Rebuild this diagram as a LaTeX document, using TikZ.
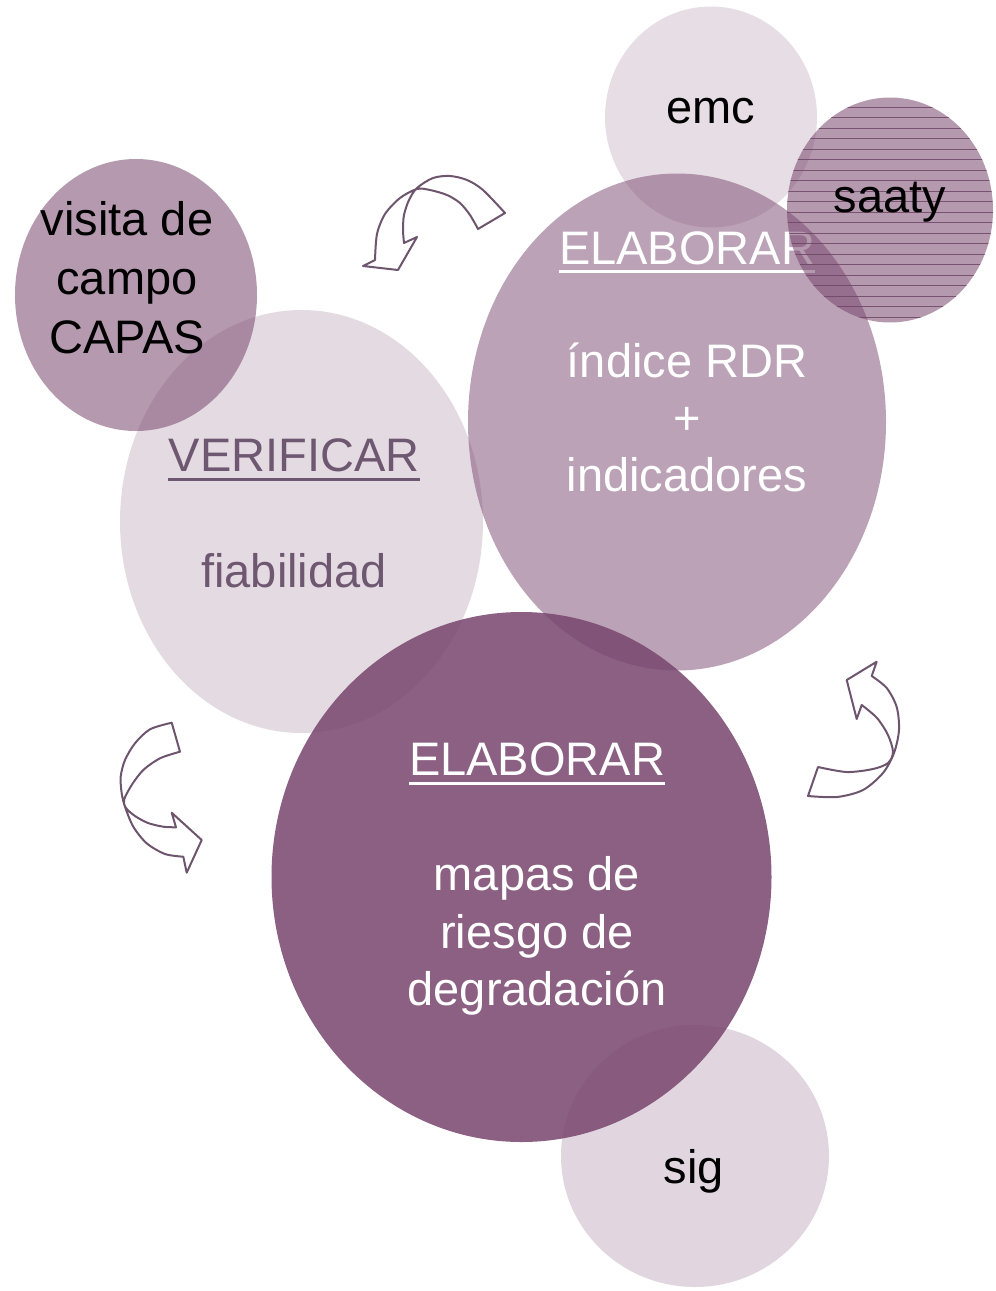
\documentclass[tikz,border=0pt]{standalone}
\usepackage{fontspec}
\setmainfont{Liberation Sans}
\usetikzlibrary{shapes.geometric}
\definecolor{plum}{RGB}{120,70,110}
\definecolor{arrowcol}{RGB}{110,85,110}
\definecolor{vtext}{RGB}{110,87,112}
\definecolor{saatyline}{RGB}{110,70,102}
\tikzset{
  bubble/.style={ellipse, inner sep=0pt, fill=plum, draw=none},
  lbl/.style={anchor=base, inner sep=0pt, font=\fontsize{47}{56}\selectfont},
  cyc/.style={draw=arrowcol, line width=2pt, line join=round},
  uline/.style={line width=3pt},
}
\begin{document}
\begin{tikzpicture}[x=1pt,y=-1pt]
\useasboundingbox (0,0) rectangle (996,1291);

% bubbles
\node[bubble, fill opacity=0.22, minimum width=268pt, minimum height=262pt] (sig) at (695,1156) {};
\node[bubble, fill opacity=0.55, minimum width=242pt, minimum height=272pt] (visita) at (136,295) {};
\node[bubble, fill opacity=0.18, minimum width=212pt, minimum height=221pt] (emc) at (711,117) {};
\node[bubble, fill opacity=0.20, minimum width=363pt, minimum height=423pt] (verif) at (301.5,521.5) {};
\node[bubble, fill opacity=0.50, minimum width=418pt, minimum height=497pt] (rdr) at (677,422) {};

% texts of emc, visita, verificar, rdr
\node[lbl] (temc) at (711,123) {emc};
\node[lbl] (tv1) at (127,235) {visita de};
\node[lbl] (tv2) at (127,294) {campo};
\node[lbl] (tv3) at (127,353) {CAPAS};
\node[lbl, text=vtext] (tver) at (294,471) {VERIFICAR};
\draw[uline, vtext] ([yshift=-8pt]tver.base west) -- ([yshift=-8pt]tver.base east);
\node[lbl, text=vtext] (tfia) at (294,587) {fiabilidad};
\node[lbl, text=white] (tel1) at (687,264) {ELABORAR};
\draw[uline, white] ([yshift=-7pt]tel1.base west) -- ([yshift=-7pt]tel1.base east);
\node[lbl, text=white] (tr1) at (687,377) {índice RDR};
\node[lbl, text=white] (tr2) at (687,434) {+};
\node[lbl, text=white] (tr3) at (687,491) {indicadores};

% saaty on top
\node[bubble, fill opacity=0.55, minimum width=206pt, minimum height=225pt] (saaty) at (890,210) {};
\begin{scope}
  \clip (890,210) ellipse [x radius=103, y radius=112.5];
  \foreach \yy in {107,117.5,...,330} \draw[saatyline, line width=0.9pt, opacity=0.85] (780,\yy) -- (1000,\yy);
\end{scope}
\node[lbl] (tsaaty) at (890,212) {saaty};

% mapas bubble
\node[bubble, fill opacity=0.86, minimum width=500pt, minimum height=530pt] (mapas) at (521.5,877) {};
\node[lbl, text=white] (tel2) at (537,775) {ELABORAR};
\draw[uline, white] ([yshift=-8pt]tel2.base west) -- ([yshift=-8pt]tel2.base east);
\node[lbl, text=white] (tm1) at (537,890) {mapas de};
\node[lbl, text=white] (tm2) at (537,948) {riesgo de};
\node[lbl, text=white] (tm3) at (537,1005) {degradación};
\node[lbl] (tsig) at (694,1183) {sig};

% circular arrows
% top arrow
\draw[cyc] plot[smooth] coordinates {(505,213) (483,190) (467,180) (450,176) (433,178) (417,188) (409,200) (404,215) (403,230) (404,243)}
  -- (417,237) -- (398,270) -- (363,266) -- (375,260)
  -- plot[smooth] coordinates {(375,260) (377,234) (385,214) (400,198) (417,189) (430,190) (447,195) (460,203) (470,215) (478,229)}
  -- cycle;
% right arrow
\draw[cyc] (818,767) -- (808,796)
  -- plot[smooth] coordinates {(808,796) (837,797) (863,790) (883,773) (894,753) (899,730) (896.7,707) (886.7,688) (871.7,676)}
  -- (876.7,661.7) -- (846.7,680) -- (856.7,719) -- (861.7,705)
  -- plot[smooth] coordinates {(861.7,705) (877,718) (888,735) (893,752) (888,763) (873,769) (846.7,772) (818,767)}
  -- cycle;
% left arrow
\draw[cyc] (171.7,722.7) -- (180,751.7)
  -- plot[smooth] coordinates {(180,751.7) (160,758.3) (143.3,770) (131.7,785) (124,800) (126,808) (135,816) (148,823) (163.3,826.7) (176,827.3)}
  -- (171.7,812.7) -- (201.7,840) -- (186.7,872.7) -- (183.3,856.7)
  -- plot[smooth] coordinates {(183.3,856.7) (165,854) (146.7,843.3) (133.3,826.7) (125,806.7) (121.7,793.3) (120.7,776.7) (125,760) (135,743.3) (150,729.3) (171.7,722.7)}
  -- cycle;
\end{tikzpicture}
\end{document}
